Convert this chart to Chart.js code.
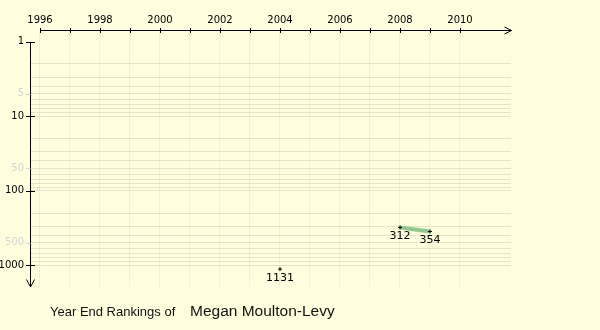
<!DOCTYPE html>
<html>
<head>
<meta charset="utf-8">
<script src="https://cdn.jsdelivr.net/npm/chart.js@4.4.1/dist/chart.umd.min.js"></script>
<style>
  html, body { margin: 0; padding: 0; background: #ffffe0; }
  #rankChart { display: block; }
</style>
</head>
<body>
<canvas id="rankChart" width="600" height="330"></canvas>
<script>
// Year end rankings (x = season, y = rank)
const years = [2004, 2008, 2009];
const ranks = [1131, 312, 354];

// Axis ticks
const yearTicks = [1996, 1997, 1998, 1999, 2000, 2001, 2002, 2003, 2004, 2005, 2006, 2007, 2008, 2009, 2010];
const rankTicks = [1, 2, 3, 4, 5, 6, 7, 8, 9, 10, 20, 30, 40, 50, 60, 70, 80, 90,
                   100, 200, 300, 400, 500, 600, 700, 800, 900, 1000];
const majorRanks = [1, 10, 100, 1000];
const minorRanks = [5, 50, 500];

const playerName = 'Megan Moulton-Levy';
const titlePrefix = 'Year End Rankings of';

const lineGreen = 'rgba(140, 196, 140, 0.95)';
const axisFont = { family: 'DejaVu Sans', size: 10 };

// Hand-drawn axes with arrows, tick marks and the caption
const axesPlugin = {
    id: 'axes',
    beforeDatasetsDraw(chart) {
        const { ctx, chartArea, scales } = chart;
        const xs = scales.x, ys = scales.y;
        ctx.save();
        ctx.lineWidth = 1;

        // top x axis
        const ay = chartArea.top + 0.5;
        const x0 = Math.round(xs.getPixelForValue(yearTicks[0])) + 0.5;
        const xEnd = chartArea.right + 0.5;
        ctx.strokeStyle = '#000';
        ctx.beginPath();
        ctx.moveTo(x0, ay);
        ctx.lineTo(xEnd, ay);
        ctx.moveTo(xEnd - 7, ay - 3.5);
        ctx.lineTo(xEnd, ay);
        ctx.lineTo(xEnd - 7, ay + 3.5);
        yearTicks.forEach(y => {
            const px = Math.round(xs.getPixelForValue(y)) + 0.5;
            ctx.moveTo(px, ay - 2.5);
            ctx.lineTo(px, ay + 2.5);
        });
        ctx.stroke();

        // left y axis (ranks grow downwards)
        const ax = chartArea.left + 0.5;
        const y0 = Math.round(ys.getPixelForValue(1)) + 0.5;
        const yEnd = chartArea.bottom;
        ctx.beginPath();
        ctx.moveTo(ax, y0);
        ctx.lineTo(ax, yEnd);
        ctx.moveTo(ax - 4, yEnd - 7.5);
        ctx.lineTo(ax, yEnd);
        ctx.lineTo(ax + 4, yEnd - 7.5);
        majorRanks.forEach(r => {
            const py = Math.round(ys.getPixelForValue(r)) + 0.5;
            ctx.moveTo(ax - 4.5, py);
            ctx.lineTo(ax + 4.5, py);
        });
        ctx.stroke();

        ctx.strokeStyle = '#dcdcd4';
        ctx.beginPath();
        minorRanks.forEach(r => {
            const py = Math.round(ys.getPixelForValue(r)) + 0.5;
            ctx.moveTo(ax - 5, py);
            ctx.lineTo(ax, py);
        });
        ctx.stroke();

        ctx.restore();
    },
    afterDraw(chart) {
        const { ctx } = chart;
        ctx.save();
        ctx.fillStyle = '#111';
        ctx.textBaseline = 'alphabetic';
        ctx.textAlign = 'left';
        ctx.font = '13px "Liberation Sans", Arial, sans-serif';
        ctx.fillText(titlePrefix, 50, 316);
        ctx.font = '15.5px "Liberation Sans", Arial, sans-serif';
        ctx.fillText(playerName, 190, 316);
        ctx.restore();
    }
};

// Rank value written under each point
const pointLabels = {
    id: 'pointLabels',
    afterDatasetsDraw(chart) {
        const { ctx } = chart;
        const meta = chart.getDatasetMeta(0);
        ctx.save();
        ctx.fillStyle = '#000';
        ctx.font = '11px "DejaVu Sans", sans-serif';
        ctx.textAlign = 'center';
        ctx.textBaseline = 'middle';
        meta.data.forEach((pt, i) => {
            ctx.fillText(String(ranks[i]), pt.x, pt.y + 9);
        });
        ctx.restore();
    }
};

new Chart(document.getElementById('rankChart'), {
    type: 'line',
    data: {
        datasets: [{
            data: years.map((y, i) => ({ x: y, y: ranks[i] })),
            borderColor: lineGreen,
            borderWidth: 4,
            pointStyle: 'cross',
            pointRadius: 2,
            pointBorderColor: '#000',
            pointBorderWidth: 1,
            pointBackgroundColor: '#000',
            tension: 0,
            // only join consecutive seasons
            segment: {
                borderColor: c => (c.p1.parsed.x - c.p0.parsed.x > 1 ? 'rgba(0,0,0,0)' : lineGreen)
            }
        }]
    },
    options: {
        responsive: false,
        animation: false,
        layout: { padding: { left: 0, top: 0, right: 89, bottom: 43 } },
        plugins: {
            legend: { display: false },
            tooltip: { enabled: false }
        },
        scales: {
            x: {
                type: 'linear',
                position: 'top',
                min: 1996 - 10 / 30,
                max: 1996 + 471 / 30,
                afterBuildTicks: scale => { scale.ticks = yearTicks.map(v => ({ value: v })); },
                afterFit: scale => { scale.height = 30; },
                ticks: {
                    autoSkip: false,
                    maxRotation: 0,
                    padding: 4,
                    color: '#000',
                    font: axisFont,
                    callback: v => (v % 2 === 0 ? String(v) : '')
                },
                grid: { color: 'rgba(0,0,0,0.05)', drawTicks: false },
                border: { display: false }
            },
            y: {
                type: 'logarithmic',
                reverse: true,
                min: Math.pow(10, -10 / 75),
                max: Math.pow(10, 247 / 75),
                afterBuildTicks: scale => { scale.ticks = rankTicks.map(v => ({ value: v })); },
                afterFit: scale => { scale.width = 30; },
                ticks: {
                    autoSkip: false,
                    padding: 6,
                    font: axisFont,
                    color: c => (minorRanks.includes(c.tick.value) ? '#d6d6ce' : '#000'),
                    callback: v => (majorRanks.includes(v) || minorRanks.includes(v) ? String(v) : '')
                },
                grid: {
                    color: c => (c.tick && c.tick.value === 1 ? 'rgba(0,0,0,0)' : 'rgba(0,0,0,0.1)'),
                    drawTicks: false
                },
                border: { display: false }
            }
        }
    },
    plugins: [axesPlugin, pointLabels]
});
</script>
</body>
</html>
